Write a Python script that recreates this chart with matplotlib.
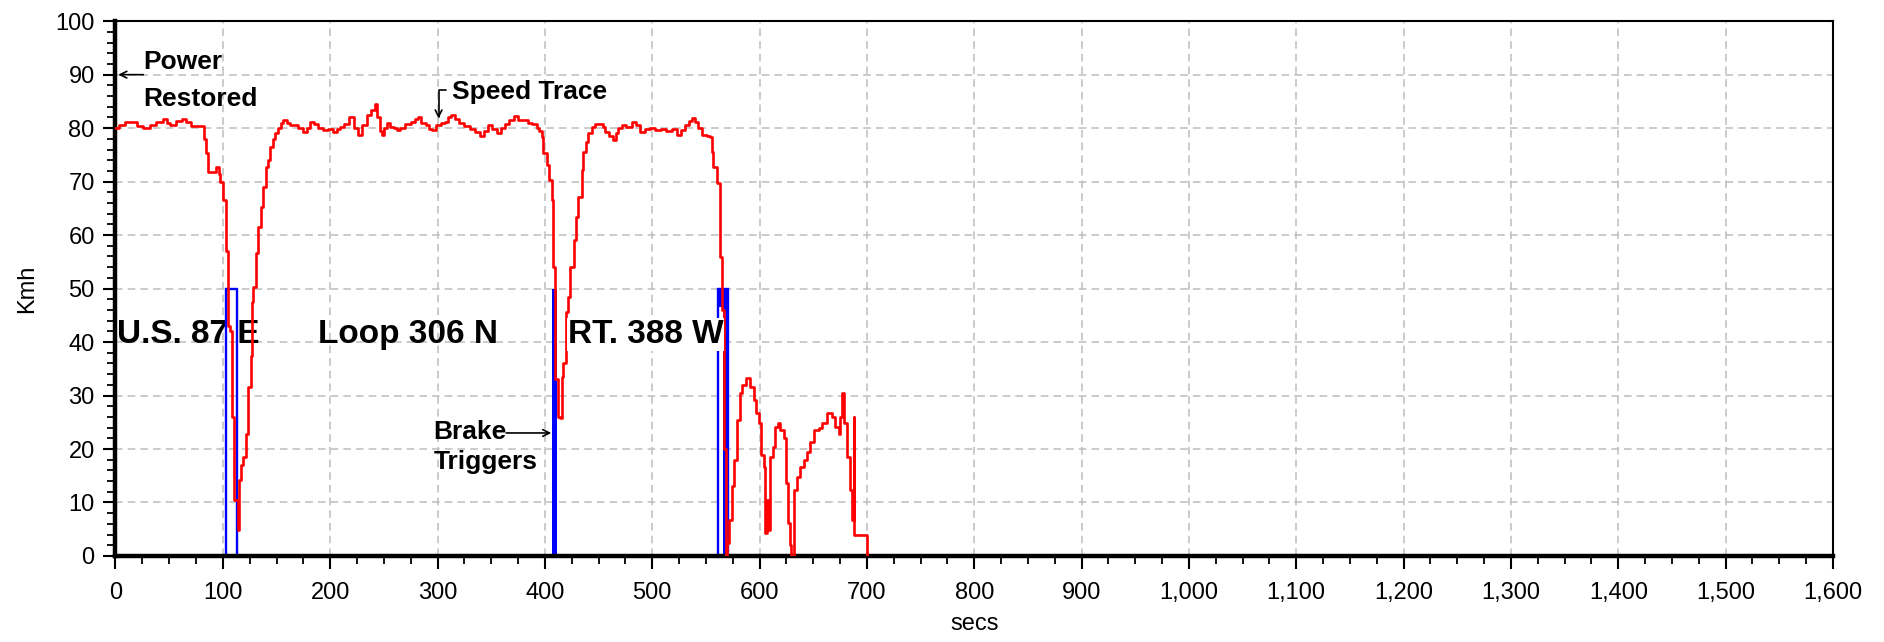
import matplotlib
matplotlib.use("Agg")
import matplotlib.pyplot as plt
from matplotlib.ticker import MultipleLocator

plt.rcParams['font.family'] = ['Liberation Sans', 'DejaVu Sans']

# ---------------- data ----------------
speed_t = [0, 3, 6, 9, 15, 20, 26, 32, 38, 44, 48, 51, 56, 62, 66, 70, 75, 80,
           82, 84, 86.5, 90, 94, 96, 97.5, 100, 102.5, 105, 106.5, 108.3, 110.4, 113.5,
           114.5, 115.4, 117, 119, 121.3, 123.8, 126, 127.3, 127.9, 130.6, 133, 135.6,
           137.7, 140, 142, 144, 146.5, 148.7, 151, 154, 156.5, 160, 163, 166, 170,
           175, 178, 181, 185, 189, 193, 198, 203, 206, 209, 213, 218, 222, 226, 230,
           234, 238, 241.8, 244, 246, 248, 250, 253, 256, 259, 262, 265, 270, 275,
           279, 282, 285, 289, 292, 295, 299, 303, 307, 310, 313, 316, 320, 325, 330,
           335, 339.7, 343, 347, 351, 355, 359, 363, 367, 371, 375, 380, 384, 388,
           392.5, 395, 397.2, 398.7, 401.9, 403.4, 406.5, 408, 409.6, 412.7, 414.3,
           415.8, 417, 419.5, 422, 423.6, 426.7, 428.9, 431.3, 434.5, 436, 438, 440.6,
           443.8, 447, 451.5, 454, 456.2, 460, 463.9, 466, 468.6, 472, 476, 481, 485,
           488.8, 493, 498.1, 503, 508, 513, 518, 523, 527, 531, 534, 537, 540, 543,
           546.3, 551, 554, 555.6, 557.1, 560.3, 563.4, 565, 567, 568.5, 570, 571.8,
           574.3, 576.4, 578.9, 581.4, 583.6, 587.6, 591.3, 594.4, 596.9, 599.1, 601.3,
           603.7, 605.3, 606.9, 608.4, 610, 612.1, 614.6, 617.1, 619.3, 623, 624.6,
           626.5, 628.6, 629.5, 632.3, 634.8, 637.9, 641, 644.2, 647.3, 650.3, 655,
           658.2, 662.8, 667.5, 670.6, 673.6, 675.2, 676.8, 679, 681.4, 683.9, 686.1,
           687.6, 688.3, 700.4]
speed_v = [80.0, 80.6, 80.6, 81.1, 81.1, 80.4, 80.0, 80.6, 81.2, 81.8, 81.0, 80.6,
           81.4, 81.8, 81.2, 80.4, 80.4, 80.4, 78.0, 75.3, 71.8, 71.8, 72.8, 71.5, 70.0,
           66.5, 57.0, 43.0, 42.0, 26.0, 10.5, 10.5, 4.9, 14.2, 17.0, 18.6, 22.9, 31.6,
           37.3, 47.5, 50.3, 56.6, 61.6, 65.3, 69.0, 72.8, 74.0, 76.5, 78.0, 79.0, 80.0,
           81.0, 81.5, 81.0, 80.6, 80.6, 80.0, 79.3, 80.0, 81.2, 80.8, 80.0, 79.6, 79.8,
           79.3, 79.8, 80.2, 80.8, 82.1, 80.0, 78.7, 80.5, 82.5, 83.3, 84.6, 82.0, 79.5,
           78.7, 80.0, 80.9, 80.3, 80.0, 79.6, 80.0, 80.8, 81.2, 81.8, 82.1, 81.0, 80.6,
           79.8, 79.6, 80.6, 81.0, 81.2, 82.0, 82.4, 81.8, 81.0, 80.4, 79.8, 79.2, 78.5,
           79.5, 80.6, 79.8, 79.1, 80.0, 80.8, 81.5, 82.2, 81.6, 81.5, 81.0, 80.7, 80.0,
           79.4, 78.3, 75.3, 73.1, 70.3, 66.5, 54.0, 33.0, 26.0, 25.8, 33.5, 36.0, 45.7,
           48.5, 54.0, 59.0, 63.4, 67.1, 72.1, 75.5, 77.5, 79.1, 80.2, 80.8, 80.7, 80.2,
           79.3, 78.6, 77.8, 79.0, 80.0, 80.5, 80.3, 81.1, 80.5, 79.3, 79.8, 80.0, 79.6,
           79.9, 79.5, 79.8, 78.7, 79.6, 80.6, 81.3, 81.9, 81.2, 80.0, 78.7, 78.5, 78.3,
           75.6, 72.7, 69.7, 55.9, 46.0, 20.0, 0.0, 2.4, 6.7, 13.0, 17.9, 25.4, 30.4,
           32.0, 33.2, 31.6, 29.2, 26.7, 24.8, 18.9, 16.7, 4.3, 10.5, 4.9, 18.6, 20.4,
           24.2, 24.8, 23.6, 22.0, 13.6, 6.1, 2.1, 0.0, 12.3, 14.8, 16.7, 17.9, 19.5,
           21.4, 23.6, 23.9, 24.8, 26.7, 26.0, 24.2, 22.9, 26.0, 30.4, 24.8, 18.6, 12.3,
           6.7, 26.0, 3.9, 0.0]

brake_level = 50
brake_outline = [(102.7, 112.9), (561.2, 570.3)]     # open trigger windows (secs)
brake_solid = [(406.5, 411.2), (566.0, 570.3)]       # dense trigger bursts (secs)
brake_cap = [(561.2, 570.3, 46.6)]                   # burst band near top (start, end, low)

x_ticks = list(range(0, 1601, 100))
x_labels = [f"{v:,}" for v in x_ticks]
y_ticks = list(range(0, 101, 10))

road_labels = [("U.S. 87 E", 1.1, 39.8), ("Loop 306 N", 188.7, 39.8), ("RT. 388 W", 421.5, 39.8)]

# ---------------- figure ----------------
fig = plt.figure(figsize=(18.84, 6.42), dpi=100)
fig.patch.set_facecolor('white')
ax = fig.add_axes([0.0613, 0.134, 0.9116, 0.833])
ax.set_xlim(0, 1600)
ax.set_ylim(0, 100)

# grid
ax.set_axisbelow(True)
for xv in x_ticks[1:-1]:
    ax.axvline(xv, color='#bdbdbd', lw=1.1, dashes=(5, 3.3), zorder=0)
for yv in y_ticks[1:-1]:
    ax.axhline(yv, color='#bdbdbd', lw=1.1, dashes=(5, 3.3), zorder=0)

# brake triggers
for (a, b) in brake_outline:
    ax.plot([a, a, b, b], [0, brake_level, brake_level, 0], color='#0000ff', lw=1.7,
            solid_joinstyle='miter', zorder=2)
for (a, b) in brake_solid:
    ax.fill_between([a, b], 0, brake_level, color='#0000ff', lw=0, zorder=2)
for (a, b, lo) in brake_cap:
    ax.fill_between([a, b], lo, brake_level, color='#0000ff', lw=0, zorder=2)

# speed trace
ax.plot(speed_t, speed_v, color='#ff0000', lw=1.9, drawstyle='steps-post', zorder=3)

# road labels
for i, (txt, xv, yv) in enumerate(road_labels):
    kw = {}
    if i == 2:
        kw['bbox'] = dict(boxstyle='square,pad=0.02', fc='white', ec='none')
        z = 5
    else:
        z = 1
    ax.text(xv, yv, txt, fontsize=24, fontweight='bold', ha='left', va='baseline',
            zorder=z, **kw)

# annotations
ann_fs = 19
ax.text(26, 92.4, "Power", fontsize=ann_fs, fontweight='bold', ha='left', va='center')
ax.text(26, 85.5, "Restored", fontsize=ann_fs, fontweight='bold', ha='left', va='center')
ax.annotate('', xy=(2.6, 90), xytext=(26, 90),
            arrowprops=dict(arrowstyle='->', lw=1.2, color='black', shrinkA=0, shrinkB=0,
                            mutation_scale=12))

ax.text(313.3, 86.8, "Speed Trace", fontsize=ann_fs, fontweight='bold', ha='left', va='center')
ax.annotate('', xy=(301, 81.8), xytext=(307.5, 87.1),
            arrowprops=dict(arrowstyle='->', lw=1.2, color='black', shrinkA=0, shrinkB=0,
                            mutation_scale=12,
                            connectionstyle='angle,angleA=180,angleB=90,rad=0'))

ax.text(296.2, 23.2, "Brake", fontsize=ann_fs, fontweight='bold', ha='left', va='center')
ax.text(296.2, 17.6, "Triggers", fontsize=ann_fs, fontweight='bold', ha='left', va='center')
ax.annotate('', xy=(406.0, 23.0), xytext=(364, 23.0),
            arrowprops=dict(arrowstyle='->', lw=1.2, color='black', shrinkA=0, shrinkB=0,
                            mutation_scale=12))

# axes, ticks
ax.set_xticks(x_ticks)
ax.set_xticklabels(x_labels)
ax.set_yticks(y_ticks)
ax.xaxis.set_minor_locator(MultipleLocator(25))
ax.yaxis.set_minor_locator(MultipleLocator(2))
ax.tick_params(axis='both', which='major', direction='out', length=9, width=1.5,
               labelsize=17, colors='black')
ax.tick_params(axis='both', which='minor', direction='out', length=5.5, width=1.3)
ax.tick_params(axis='x', which='major', pad=10)
ax.tick_params(axis='y', which='major', pad=6)

for side in ('left', 'bottom'):
    ax.spines[side].set_linewidth(3.2)
    ax.spines[side].set_color('black')
for side in ('top', 'right'):
    ax.spines[side].set_linewidth(1.5)
    ax.spines[side].set_color('black')

ax.set_xlabel("secs", fontsize=17, labelpad=6)
ax.set_ylabel("Kmh", fontsize=17, labelpad=12)

fig.savefig("out.png", dpi=100, facecolor='white')
